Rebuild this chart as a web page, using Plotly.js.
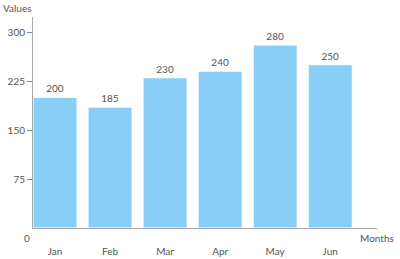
<!DOCTYPE html>
<html><head><meta charset="utf-8">
<script src="https://cdn.plot.ly/plotly-3.0.1.min.js"></script>
<style>html,body{margin:0;padding:0;background:#fff}</style>
</head><body><div id="chart" style="width:400px;height:259px"></div>
<script>
var months = ["Jan","Feb","Mar","Apr","May","Jun"];
var values = [200,185,230,240,280,250];
var yTicks = [75,150,225,300];

var trace = {
  type: "bar", x: months, y: values,
  text: values.map(String), textposition: "outside", cliponaxis: false,
  textfont: {family: "Lato, sans-serif", size: 10, color: "#555"},
  marker: {color: "#88CEF6", line: {color: "#ffffff", width: 1}},
  width: 0.8, hoverinfo: "none"
};
var layout = {
  width: 400, height: 259,
  margin: {l: 33, r: 23, t: 17, b: 31},
  paper_bgcolor: "#fff", plot_bgcolor: "#fff",
  showlegend: false,
  font: {family: "Lato, sans-serif", size: 10, color: "#555"},
  xaxis: {range: [-0.4, 5.85], showgrid: false, zeroline: false,
    showline: true, linecolor: "#aaa", linewidth: 1,
    ticks: "outside", ticklen: 14, tickcolor: "rgba(0,0,0,0)",
    tickfont: {size: 10, color: "#555"}},
  yaxis: {range: [0, 323], showgrid: false, zeroline: false,
    showline: true, linecolor: "#aaa", linewidth: 1,
    tickvals: yTicks, ticktext: yTicks.map(String),
    ticks: "outside", ticklen: 5, tickcolor: "#888",
    tickfont: {size: 10, color: "#555"}},
  annotations: [
    {text: "Values", xref: "paper", yref: "paper", x: 0, y: 1, xanchor: "center", yanchor: "bottom", xshift: -16, yshift: 1, showarrow: false, font: {size: 10, color: "#555"}},
    {text: "Months", xref: "paper", yref: "paper", x: 1, y: 0, xanchor: "center", yanchor: "top", yshift: -2, showarrow: false, font: {size: 10, color: "#555"}},
    {text: "0", xref: "paper", yref: "paper", x: 0, y: 0, xanchor: "center", yanchor: "top", xshift: -6, yshift: -2, showarrow: false, font: {size: 10, color: "#555"}}
  ]
};
Plotly.newPlot("chart", [trace], layout, {displayModeBar: false, staticPlot: true});
</script></body></html>
